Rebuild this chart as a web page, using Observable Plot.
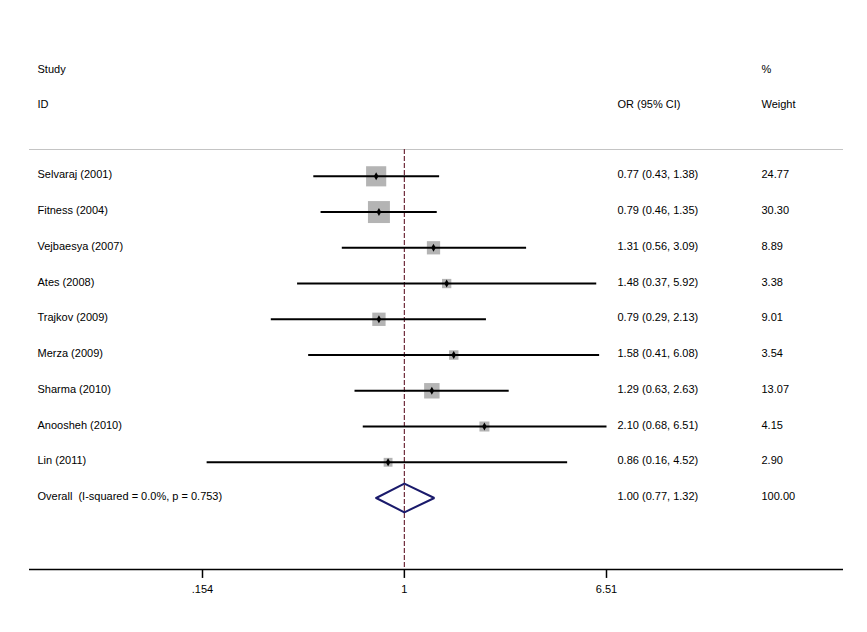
<!DOCTYPE html>
<html>
<head>
<meta charset="utf-8">
<script src="https://cdn.jsdelivr.net/npm/d3@7"></script>
<script src="https://cdn.jsdelivr.net/npm/@observablehq/plot@0.6"></script>
<style>
  html, body { margin: 0; padding: 0; background: #fff; }
  svg text { white-space: pre; }
</style>
</head>
<body>
<div id="chart"></div>
<script>
const studies = ["Selvaraj (2001)", "Fitness (2004)", "Vejbaesya (2007)", "Ates (2008)", "Trajkov (2009)", "Merza (2009)", "Sharma (2010)", "Anoosheh (2010)", "Lin (2011)"];
const orValues = [0.77, 0.79, 1.31, 1.48, 0.79, 1.58, 1.29, 2.10, 0.86];
const ciLow = [0.43, 0.46, 0.56, 0.37, 0.29, 0.41, 0.63, 0.68, 0.16];
const ciHigh = [1.38, 1.35, 3.09, 5.92, 2.13, 6.08, 2.63, 6.51, 4.52];
const weights = [24.77, 30.30, 8.89, 3.38, 9.01, 3.54, 13.07, 4.15, 2.90];
const overallLabel = "Overall  (I-squared = 0.0%, p = 0.753)";
const overallOR = 1.00, overallLow = 0.77, overallHigh = 1.32, overallWeight = 100.00;
const xTicks = [0.154, 1, 6.51];
const xTickLabels = [".154", "1", "6.51"];

const tickLabel = new Map(xTicks.map((t, i) => [t, xTickLabels[i]]));
const tickRows = xTicks.map(t => ({t}));
const rows = studies.map((s, i) => ({
  row: i, study: s, or: orValues[i], lo: ciLow[i], hi: ciHigh[i], w: weights[i],
  ci: `${orValues[i].toFixed(2)} (${ciLow[i].toFixed(2)}, ${ciHigh[i].toFixed(2)})`,
  wt: weights[i].toFixed(2)
}));
const oRow = studies.length;
const allText = rows.concat([{
  row: oRow, study: overallLabel,
  ci: `${overallOR.toFixed(2)} (${overallLow.toFixed(2)}, ${overallHigh.toFixed(2)})`,
  wt: overallWeight.toFixed(2)
}]);
const diamond = [
  {x: overallLow, y: oRow}, {x: overallOR, y: oRow - 0.4},
  {x: overallHigh, y: oRow}, {x: overallOR, y: oRow + 0.4}, {x: overallLow, y: oRow}
];
const headStudy = [{row: -3, t: "Study"}, {row: -2, t: "ID"}];
const headCI = [{row: -2, t: "OR (95% CI)"}];
const headWt = [{row: -3, t: "%"}, {row: -2, t: "Weight"}];
const colDx = {study: 8, ci: 588, wt: 732};
const yTop = -0.75, yBottom = 11, tickLen = 0.25;

const chart = Plot.plot({
  width: 867, height: 632,
  marginLeft: 29, marginRight: 24, marginTop: 149, marginBottom: 63,
  style: {fontFamily: "'Liberation Sans', Arial, sans-serif", fontSize: "11px", background: "#fff", color: "#000"},
  x: {type: "log", domain: [0.154, 6.51], range: [202, 606]},
  y: {domain: [yBottom, yTop], axis: null},
  r: {type: "linear", domain: [0, Math.sqrt(30.3)], range: [1.67, 12.4]},
  marks: [
    Plot.axisX({ticks: xTicks, tickFormat: d => tickLabel.get(d) ?? String(d), tickSize: 0, tickPadding: 16, label: null, fontSize: 11, fill: "#000"}),
    Plot.ruleY([yTop], {stroke: "#c4c4c4", strokeWidth: 1}),
    Plot.ruleY([yBottom], {stroke: "#000", strokeWidth: 1.5}),
    Plot.ruleX(tickRows, {x: "t", y1: yBottom, y2: yBottom + tickLen, stroke: "#000", strokeWidth: 1.5}),
    Plot.ruleX([1], {stroke: "#6e2a3a", strokeWidth: 1.2, strokeDasharray: "5,2"}),
    Plot.dot(rows, {x: "or", y: "row", r: d => Math.sqrt(d.w), symbol: "square", fill: "#b4b4b4", stroke: "none"}),
    Plot.link(rows, {x1: "lo", x2: "hi", y1: "row", y2: "row", stroke: "#000", strokeWidth: 2}),
    Plot.dot(rows, {x: "or", y: "row", r: 2.4, symbol: "diamond", fill: "#000", stroke: "none"}),
    Plot.line(diamond, {x: "x", y: "y", stroke: "#1a1a6b", strokeWidth: 2, strokeLinejoin: "miter"}),
    Plot.text(allText, {y: "row", text: "study", frameAnchor: "left", dx: colDx.study, dy: -1.5, textAnchor: "start", fill: "#000"}),
    Plot.text(allText, {y: "row", text: "ci", frameAnchor: "left", dx: colDx.ci, dy: -1.5, textAnchor: "start", fill: "#000"}),
    Plot.text(allText, {y: "row", text: "wt", frameAnchor: "left", dx: colDx.wt, dy: -1.5, textAnchor: "start", fill: "#000"}),
    Plot.text(headStudy, {y: "row", text: "t", frameAnchor: "left", dx: colDx.study, textAnchor: "start", fill: "#000"}),
    Plot.text(headCI, {y: "row", text: "t", frameAnchor: "left", dx: colDx.ci, textAnchor: "start", fill: "#000"}),
    Plot.text(headWt, {y: "row", text: "t", frameAnchor: "left", dx: colDx.wt, textAnchor: "start", fill: "#000"})
  ]
});
document.getElementById("chart").appendChild(chart);
</script>
</body>
</html>
